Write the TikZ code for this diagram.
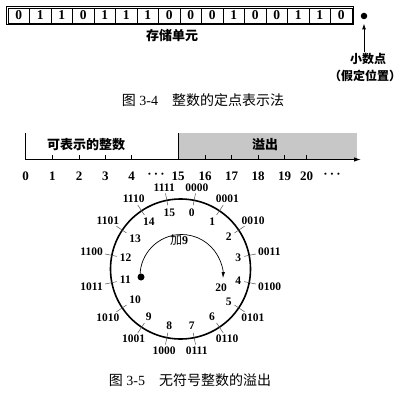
\documentclass[tikz,border=0pt]{standalone}
\usepackage{fontspec}
\setmainfont{Liberation Serif}
\newfontfamily\cjk{Noto Sans CJK SC}
\usetikzlibrary{arrows.meta}
\begin{document}
\begin{tikzpicture}[x=1pt,y=-1pt,
  bitbox/.style={draw, line width=0.7pt, minimum width=21.5pt, minimum height=15pt, inner sep=0pt, font=\bfseries\fontsize{13.5}{13.5}\selectfont},
  cnlab/.style={inner sep=1pt, font=\cjk\bfseries\fontsize{13}{13}\selectfont},
  cnsmall/.style={inner sep=1pt, font=\cjk\bfseries\fontsize{12}{12}\selectfont},
  captext/.style={inner sep=1pt, font=\fontsize{14}{14}\selectfont},
  numlab/.style={inner sep=1pt, font=\bfseries\fontsize{13}{13}\selectfont},
  ringlab/.style={inner sep=1pt, font=\bfseries\fontsize{11.5}{11.5}\selectfont},
  ringtick/.style={line width=0.5pt, black!70},
  axisline/.style={line width=1.1pt},
  overflowfill/.style={fill=black!22},
]
\useasboundingbox (0,0) rectangle (402,411);

% ---------- Figure 3-4 ----------
\draw[line width=0.7pt] (6.5,6.5) rectangle (353.5,24.5);
\foreach \d [count=\i] in {0,1,1,0,1,1,1,0,0,0,1,0,0,1,1,0}{
  \node[bitbox] (b\i) at ({8+21.5*(\i-0.5)},15.5) {\d};
}
\node[cnlab] (store) at (172,36) {存储单元};
\node[circle, fill, inner sep=0pt, minimum size=6.5pt] (pt) at (364,16) {};
\node[cnsmall] (xs) at (368,59) {小数点};
\node[cnsmall] (jd) at (365,76) {（假定位置）};
\draw[line width=0.9pt, -{Latex[length=6pt,width=4pt]}, shorten >=4pt] (xs.north -| pt) -- (pt.south);
\node[captext] (cap1) at (203,100) {{\cjk 图} 3-4\quad{\cjk 整数的定点表示法}};

% ---------- Figure 3-5: number line ----------
\fill[overflowfill] (178,133) rectangle (357,159.5);
\coordinate (wl0) at (25.5,133);
\coordinate (wl1) at (25.5,159.5);
\coordinate (gl0) at (178,133);
\coordinate (gl1) at (178,159.5);
\draw[line width=0.9pt] (wl0) -- (wl1);
\draw[line width=0.9pt] (gl0) -- (gl1);
\coordinate (ax0) at (25,159.5);
\coordinate (ax1) at (361,159.5);
\draw[axisline, -{Latex[length=7pt,width=4.5pt]}] (ax0) -- (ax1);
\foreach \x/\n in {25.5/0, 52.3/1, 79/2, 105.3/3, 131.7/4, 178/15, 205/16, 231.5/17, 258/18, 284.5/19, 306.5/20}{
  \coordinate (t\n a) at (\x,155.5);
  \coordinate (t\n b) at (\x,160.5);
  \draw[line width=1pt] (t\n a) -- (t\n b);
  \node[numlab] (n\n) at (\x,176) {\n};
}
\node[numlab] (dots1) at (156,176) {·\,·\,·};
\node[numlab] (dots2) at (332,176) {·\,·\,·};
\node[cnlab] (repr) at (86,145) {可表示的整数};
\node[cnlab] (ovf) at (265,145) {溢出};

% ---------- ring ----------
\node[circle, draw, line width=1.6pt, minimum size=140pt, inner sep=0pt] (ring) at (180.5,269) {};
\foreach \k/\b in {0/0000,1/0001,2/0010,3/0011,4/0100,5/0101,6/0110,7/0111,8/1000,9/1001,10/1010,11/1011,12/1100,13/1101,14/1110,15/1111}{
  \pgfmathsetmacro\ang{78.75-22.5*\k}
  \pgfmathsetmacro\oang{\ang+180}
  \node[ringlab, anchor=\ang] (in\k) at ({180.5+63*cos(\ang)},{269-63*sin(\ang)}) {\k};
  \node[ringlab, anchor=\oang] (out\k) at ({180.5+78*cos(\ang)},{269-78*sin(\ang)}) {\b};
  \coordinate (ti\k) at ({180.5+65*cos(\ang)},{269-65*sin(\ang)});
  \coordinate (to\k) at ({180.5+77*cos(\ang)},{269-77*sin(\ang)});
  \draw[ringtick] (ti\k) -- (to\k);
}
\node[circle, fill, inner sep=0pt, minimum size=7pt] (start) at (141,277) {};
\coordinate (arcstart) at (140,276);
\draw[line width=0.7pt, -{Latex[length=6pt,width=3.5pt]}] (arcstart) arc[start angle=180, end angle=363, radius=41.5];
\node[cnsmall, font=\cjk\fontsize{12}{12}\selectfont] (add9) at (179,240) {加{\rmfamily\bfseries 9}};
\node[ringlab] (r20) at (221,288) {20};
\node[captext] (cap2) at (190,380) {{\cjk 图} 3-5\quad{\cjk 无符号整数的溢出}};
\end{tikzpicture}
\end{document}
